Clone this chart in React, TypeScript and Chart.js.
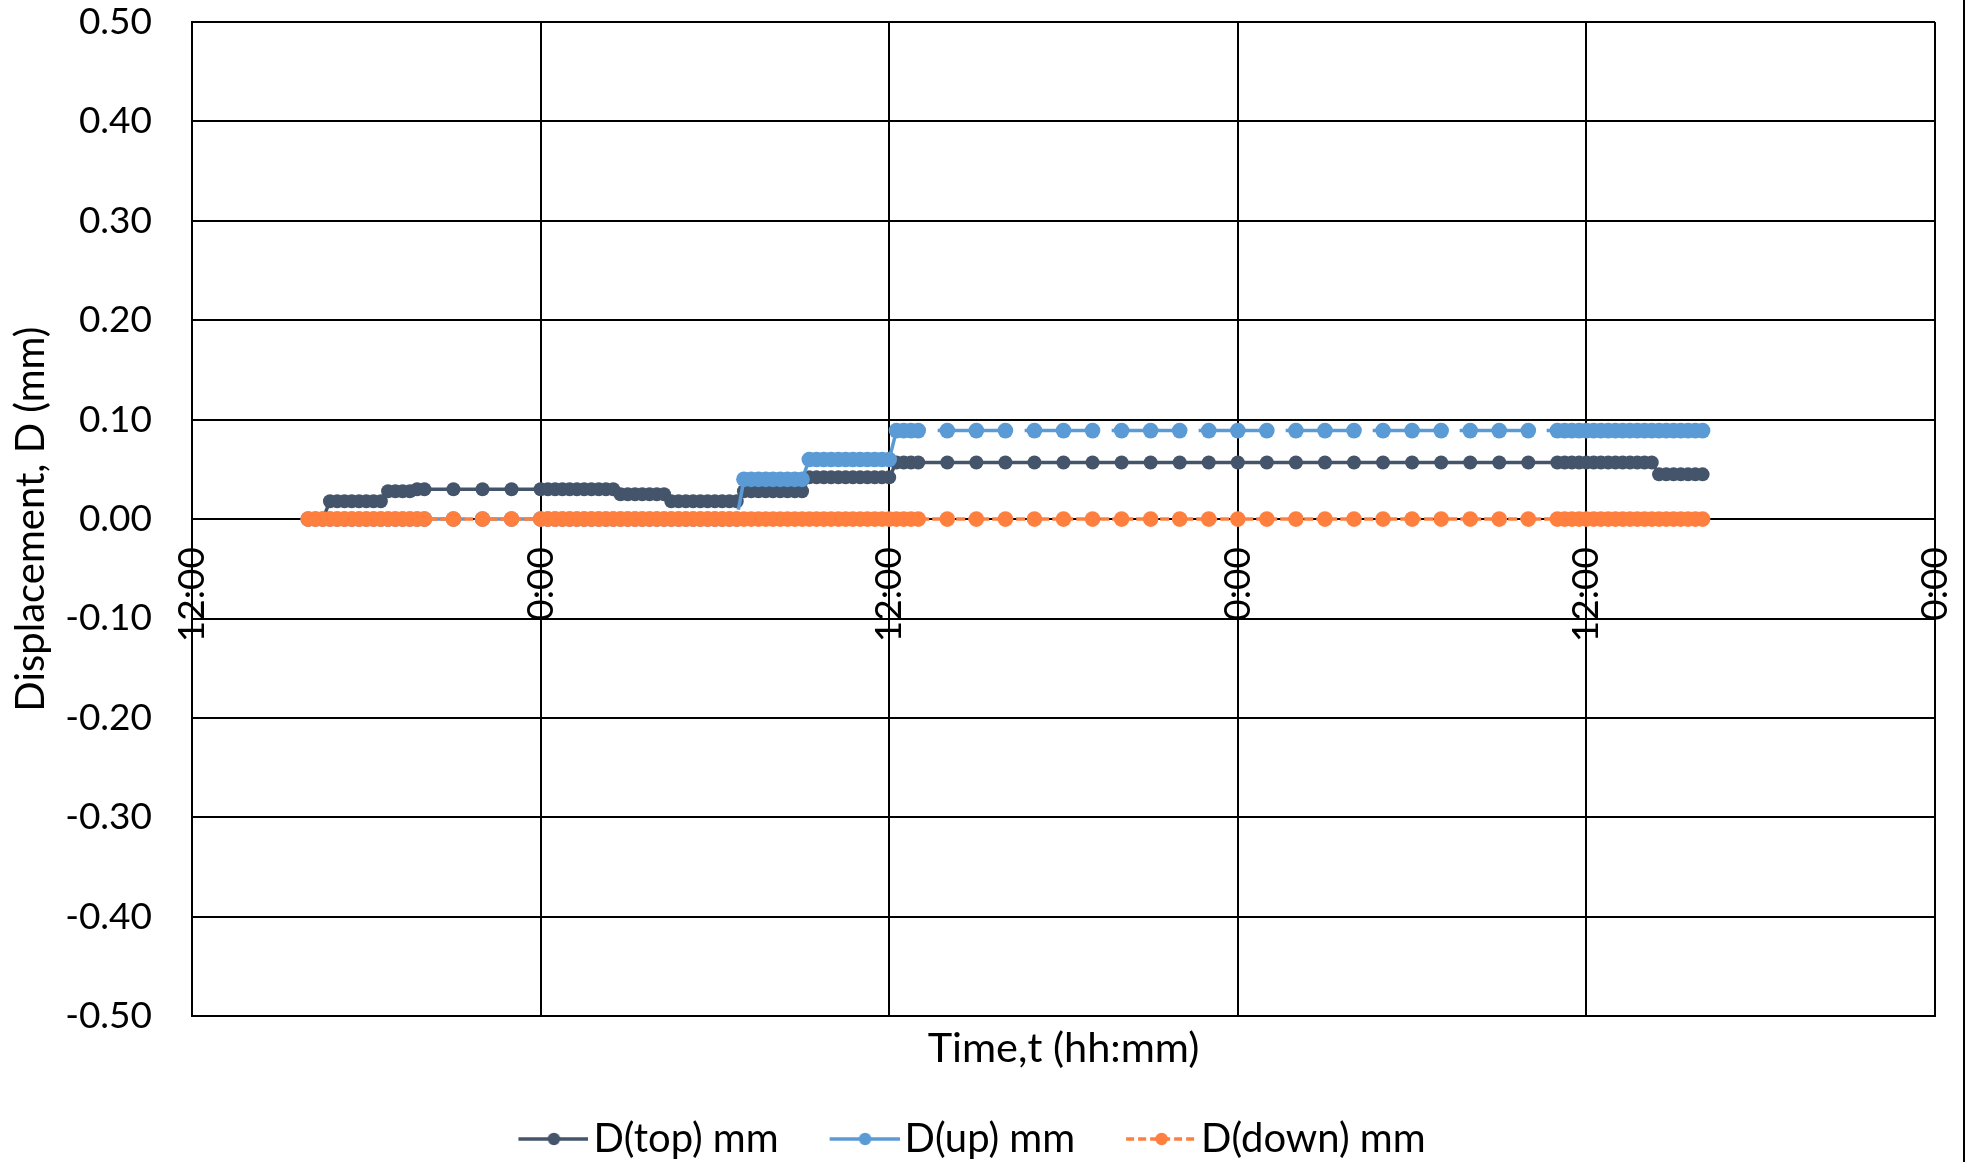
import React, { useEffect, useRef } from "react";
import { Chart, registerables } from "chart.js";

Chart.register(...registerables);

// ---------------- data ----------------
const seriesNames = ["D(top) mm", "D(up) mm", "D(down) mm"];
const seriesColors = ["#44546A", "#5B9BD5", "#FF7F3F"];

// x-axis tick labels at 0,12,24,36,48,60 h (elapsed hours from the first 12:00)
const xTickLabels = ["12:00", "0:00", "12:00", "0:00", "12:00", "0:00"];
const xAxisTitle = "Time,t (hh:mm)";
const yAxisTitle = "Displacement, D (mm)";

// sample times, hours elapsed since the first 12:00
const hours = [
  4, 4.25, 4.5, 4.75, 5, 5.25, 5.5, 5.75, 6, 6.25, 6.5, 6.75, 7, 7.25, 7.5, 7.75, 8,
  9, 10, 11,
  12, 12.25, 12.5, 12.75, 13, 13.25, 13.5, 13.75, 14, 14.25, 14.5, 14.75, 15, 15.25,
  15.5, 15.75, 16, 16.25, 16.5, 16.75, 17, 17.25, 17.5, 17.75, 18, 18.25, 18.5, 18.75,
  19, 19.25, 19.5, 19.75, 20, 20.25, 20.5, 20.75, 21, 21.25, 21.5, 21.75, 22, 22.25,
  22.5, 22.75, 23, 23.25, 23.5, 23.75, 24, 24.25, 24.5, 24.75, 25,
  26, 27, 28, 29, 30, 31, 32, 33, 34, 35, 36, 37, 38, 39, 40, 41, 42, 43, 44, 45, 46,
  47, 47.25, 47.5, 47.75, 48, 48.25, 48.5, 48.75, 49, 49.25, 49.5, 49.75, 50, 50.25,
  50.5, 50.75, 51, 51.25, 51.5, 51.75, 52,
];

const topValues = [
  0, 0, 0, 0.018, 0.018, 0.018, 0.018, 0.018, 0.018, 0.018, 0.018, 0.028, 0.028, 0.028, 0.028, 0.03, 0.03,
  0.03, 0.03, 0.03,
  0.03, 0.03, 0.03, 0.03, 0.03, 0.03, 0.03, 0.03, 0.03, 0.03, 0.03, 0.025, 0.025, 0.025,
  0.025, 0.025, 0.025, 0.025, 0.018, 0.018, 0.018, 0.018, 0.018, 0.018, 0.018, 0.018, 0.018, 0.018,
  0.028, 0.028, 0.028, 0.028, 0.028, 0.028, 0.028, 0.028, 0.028, 0.042, 0.042, 0.042, 0.042, 0.042,
  0.042, 0.042, 0.042, 0.042, 0.042, 0.042, 0.042, 0.057, 0.057, 0.057, 0.057,
  0.057, 0.057, 0.057, 0.057, 0.057, 0.057, 0.057, 0.057, 0.057, 0.057, 0.057, 0.057, 0.057, 0.057, 0.057, 0.057, 0.057, 0.057, 0.057, 0.057, 0.057,
  0.057, 0.057, 0.057, 0.057, 0.057, 0.057, 0.057, 0.057, 0.057, 0.057, 0.057, 0.057, 0.057, 0.057,
  0.045, 0.045, 0.045, 0.045, 0.045, 0.045, 0.045,
];

const upValues = [
  0, 0, 0, 0, 0, 0, 0, 0, 0, 0, 0, 0, 0, 0, 0, 0, 0,
  0, 0, 0,
  0, 0, 0, 0, 0, 0, 0, 0, 0, 0, 0, 0, 0, 0,
  0, 0, 0, 0, 0, 0, 0, 0, 0, 0, 0, 0, 0, 0,
  0.04, 0.04, 0.04, 0.04, 0.04, 0.04, 0.04, 0.04, 0.04, 0.06, 0.06, 0.06, 0.06, 0.06,
  0.06, 0.06, 0.06, 0.06, 0.06, 0.06, 0.06, 0.089, 0.089, 0.089, 0.089,
  0.089, 0.089, 0.089, 0.089, 0.089, 0.089, 0.089, 0.089, 0.089, 0.089, 0.089, 0.089, 0.089, 0.089, 0.089, 0.089, 0.089, 0.089, 0.089, 0.089, 0.089,
  0.089, 0.089, 0.089, 0.089, 0.089, 0.089, 0.089, 0.089, 0.089, 0.089, 0.089, 0.089, 0.089, 0.089,
  0.089, 0.089, 0.089, 0.089, 0.089, 0.089, 0.089,
];

const downValues = [
  0, 0, 0, 0, 0, 0, 0, 0, 0, 0, 0, 0, 0, 0, 0, 0, 0,
  0, 0, 0,
  0, 0, 0, 0, 0, 0, 0, 0, 0, 0, 0, 0, 0, 0,
  0, 0, 0, 0, 0, 0, 0, 0, 0, 0, 0, 0, 0, 0,
  0, 0, 0, 0, 0, 0, 0, 0, 0, 0, 0, 0, 0, 0,
  0, 0, 0, 0, 0, 0, 0, 0, 0, 0, 0,
  0, 0, 0, 0, 0, 0, 0, 0, 0, 0, 0, 0, 0, 0, 0, 0, 0, 0, 0, 0, 0,
  0, 0, 0, 0, 0, 0, 0, 0, 0, 0, 0, 0, 0, 0,
  0, 0, 0, 0, 0, 0, 0,
];

const xMin = 0;
const xMax = 60;
const xStep = 12;
const yMin = -0.5;
const yMax = 0.5;
const yStep = 0.1;

// ---------------- styling ----------------
const FONT = "Lato";
const W = 1968;
const H = 1162;

function makeLegendIcon(color: string, dashed: boolean): HTMLCanvasElement {
  const c = document.createElement("canvas");
  c.width = 126;
  c.height = 20;
  const ctx = c.getContext("2d")!;
  ctx.strokeStyle = color;
  ctx.lineWidth = 3.4;
  if (dashed) ctx.setLineDash([8, 4]);
  ctx.beginPath();
  ctx.moveTo(56, 10);
  ctx.lineTo(126, 10);
  ctx.stroke();
  ctx.setLineDash([]);
  ctx.fillStyle = color;
  ctx.beginPath();
  ctx.arc(91.5, 10, 6.2, 0, Math.PI * 2);
  ctx.fill();
  return c;
}

export default function App() {
  const ref = useRef<HTMLCanvasElement | null>(null);

  useEffect(() => {
    document.body.style.margin = "0";
    const canvas = ref.current;
    if (!canvas) return;

    const valueSets = [topValues, upValues, downValues];
    const icons = [
      makeLegendIcon(seriesColors[0], false),
      makeLegendIcon(seriesColors[1], false),
      makeLegendIcon(seriesColors[2], true),
    ];

    const datasets = valueSets.map((vals, i) => ({
      label: seriesNames[i],
      data: hours.map((h, k) => ({ x: h, y: vals[k] })),
      borderColor: seriesColors[i],
      backgroundColor: seriesColors[i],
      pointBackgroundColor: seriesColors[i],
      pointBorderColor: seriesColors[i],
      pointBorderWidth: 0,
      pointRadius: i === 0 ? 7 : 7.8,
      borderWidth: 3.5,
      borderDash: i === 2 ? [9, 3] : i === 1 ? [67, 20] : [],
      borderDashOffset: i === 1 ? 84 : 0,
      tension: 0,
      fill: false,
      order: 2 - i,
      xAxisID: "x",
      yAxisID: "y",
    }));

    const chart = new Chart(canvas, {
      type: "line",
      data: { datasets },
      options: {
        animation: false,
        responsive: false,
        devicePixelRatio: 1,
        layout: { padding: { top: 22, right: 33, bottom: -7, left: -32 } },
        plugins: {
          tooltip: { enabled: false },
          title: { display: false },
          legend: {
            display: true,
            position: "bottom",
            labels: {
              usePointStyle: true,
              pointStyleWidth: 96,
              padding: 10,
              color: "#000",
              font: { family: FONT, size: 40 },
              generateLabels: () =>
                seriesNames.map((n, i) => ({
                  text: n,
                  pointStyle: icons[i],
                  fillStyle: seriesColors[i],
                  strokeStyle: seriesColors[i],
                  lineWidth: 0,
                  hidden: false,
                  datasetIndex: i,
                })),
            },
          },
        },
        scales: {
          x: {
            type: "linear",
            position: "bottom",
            min: xMin,
            max: xMax,
            ticks: { display: false, stepSize: xStep },
            grid: { color: "#000", lineWidth: 2, drawTicks: false },
            border: { display: true, color: "#000", width: 2 },
            title: {
              display: true,
              text: xAxisTitle,
              color: "#000",
              font: { family: FONT, size: 41.5 },
              padding: { top: 8, bottom: 35 },
            },
          },
          x2: {
            type: "linear",
            axis: "x",
            position: { y: 0 },
            min: xMin,
            max: xMax,
            afterFit: (s: any) => {
              s.height = 0;
              s.paddingLeft = 0;
              s.paddingRight = 0;
            },
            grid: { display: false, drawTicks: false },
            border: { display: false },
            ticks: {
              stepSize: xStep,
              autoSkip: false,
              minRotation: 90,
              maxRotation: 90,
              padding: 28,
              color: "#000",
              font: { family: FONT, size: 37 },
              callback: (v: any) => xTickLabels[Math.round(Number(v) / xStep)] ?? "",
            },
          },
          y: {
            type: "linear",
            position: "left",
            min: yMin,
            max: yMax,
            afterFit: (s: any) => {
              s.width = 224;
              s.paddingTop = 0;
              s.paddingBottom = 0;
            },
            ticks: {
              stepSize: yStep,
              padding: 40,
              color: "#000",
              font: { family: FONT, size: 37 },
              callback: (v: any) => {
                const n = Number(v);
                return Math.abs(n) < 1e-9 ? "0.00" : n.toFixed(2);
              },
            },
            grid: { color: "#000", lineWidth: 2, drawTicks: false },
            border: { display: true, color: "#000", width: 2 },
            title: {
              display: true,
              text: yAxisTitle,
              color: "#000",
              font: { family: FONT, size: 40 },
              padding: { top: 39, bottom: 0 },
            },
          },
        },
      } as any,
    });

    return () => chart.destroy();
  }, []);

  return (
    <div style={{ position: "absolute", left: 0, top: 0, width: W, height: H, background: "#fff" }}>
      <canvas ref={ref} width={W} height={H} style={{ width: W, height: H, display: "block" }} />
      <div style={{ position: "absolute", left: 1963, top: 0, width: 2, height: H, background: "#000" }} />
    </div>
  );
}
